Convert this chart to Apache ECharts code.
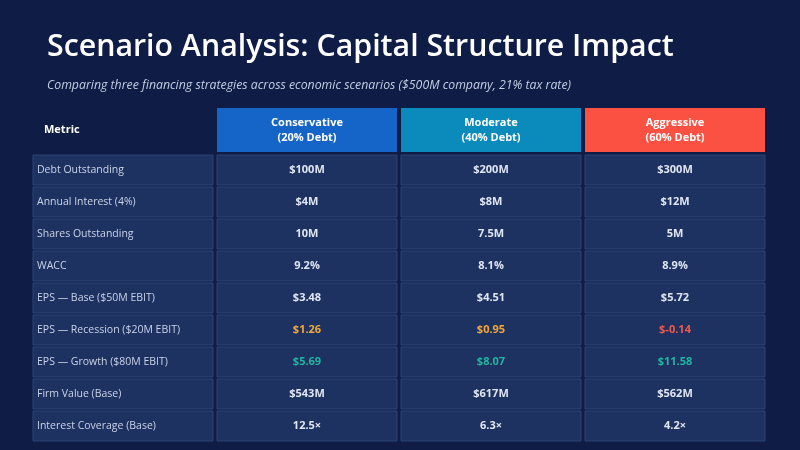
<!DOCTYPE html>
<html>
<head>
<meta charset="utf-8">
<script src="https://cdn.jsdelivr.net/npm/echarts@6/dist/echarts.min.js"></script>
<style>
  html, body { margin: 0; padding: 0; background: #0f1c45; }
  #chart { width: 800px; height: 450px; }
</style>
</head>
<body>
<div id="chart"></div>
<script>
const columns = ['Metric', 'Conservative', 'Moderate', 'Aggressive'];
const strategyHeaders = ['Conservative\n(20% Debt)', 'Moderate\n(40% Debt)', 'Aggressive\n(60% Debt)'];
const metrics = [
    'Debt Outstanding',
    'Annual Interest (4%)',
    'Shares Outstanding',
    'WACC',
    'EPS \u2014 Base ($50M EBIT)',
    'EPS \u2014 Recession ($20M EBIT)',
    'EPS \u2014 Growth ($80M EBIT)',
    'Firm Value (Base)',
    'Interest Coverage (Base)'
];
const conservative = ['$100M', '$4M', '10M', '9.2%', '$3.48', '$1.26', '$5.69', '$543M', '12.5\u00d7'];
const moderate = ['$200M', '$8M', '7.5M', '8.1%', '$4.51', '$0.95', '$8.07', '$617M', '6.3\u00d7'];
const aggressive = ['$300M', '$12M', '5M', '8.9%', '$5.72', '$-0.14', '$11.58', '$562M', '4.2\u00d7'];

const headerFill = ['#1565c8', '#0a8bbb', '#fa5142'];
const FONT = '"Open Sans", "Noto Sans", sans-serif';

// colour of a value cell's text, by row
function valueColor(row, col) {
    if (row === 5) return col === 3 ? '#f0584a' : '#f2a838';
    if (row === 6) return '#22b5a0';
    return '#dfe6f5';
}

const headerData = [];
for (let j = 0; j < columns.length; j++) {
    headerData.push([j, 0, j === 0 ? 'Metric' : strategyHeaders[j - 1]]);
}

const bodyData = [];
const valueCols = [metrics, conservative, moderate, aggressive];
for (let i = 0; i < metrics.length; i++) {
    for (let j = 0; j < valueCols.length; j++) {
        bodyData.push([j, i, valueCols[j][i]]);
    }
}

function renderHeader(params, api) {
    const col = api.value(0);
    const c = api.coord([col, api.value(1)]);
    const s = api.size([1, 1]);
    const w = s[0] - 4, h = s[1] - 4;
    const text = headerData[params.dataIndex][2];
    if (col === 0) {
        return {
            type: 'text',
            style: {
                text: text, x: c[0] - w / 2 + 11, y: c[1],
                align: 'left', verticalAlign: 'middle',
                fill: '#ffffff', font: 'bold 11px ' + FONT
            }
        };
    }
    return {
        type: 'group',
        children: [
            {
                type: 'rect',
                shape: { x: c[0] - w / 2, y: c[1] - h / 2, width: w, height: h },
                style: { fill: headerFill[col - 1] }
            },
            {
                type: 'text',
                style: {
                    text: text, x: c[0], y: c[1],
                    align: 'center', verticalAlign: 'middle',
                    fill: '#ffffff', font: 'bold 11px ' + FONT, lineHeight: 15
                }
            }
        ]
    };
}

function renderBody(params, api) {
    const col = api.value(0);
    const row = api.value(1);
    const c = api.coord([col, row]);
    const s = api.size([1, 1]);
    const w = s[0] - 4, h = s[1] - 2;
    const text = bodyData[params.dataIndex][2];
    const isLabel = col === 0;
    return {
        type: 'group',
        children: [
            {
                type: 'rect',
                shape: { x: c[0] - w / 2, y: c[1] - h / 2, width: w, height: h },
                style: { fill: '#1e3261', stroke: '#2d4576', lineWidth: 1 }
            },
            {
                type: 'text',
                style: {
                    text: text,
                    x: isLabel ? c[0] - w / 2 + 4 : c[0],
                    y: c[1],
                    align: isLabel ? 'left' : 'center',
                    verticalAlign: 'middle',
                    fill: isLabel ? '#c9d3e8' : valueColor(row, col),
                    font: (isLabel ? 'normal 10.5px ' : 'bold 11px ') + FONT
                }
            }
        ]
    };
}

const chart = echarts.init(document.getElementById('chart'));
chart.setOption({
    backgroundColor: '#0f1c45',
    animation: false,
    title: {
        text: 'Scenario Analysis: Capital Structure Impact',
        subtext: 'Comparing three financing strategies across economic scenarios ($500M company, 21% tax rate)',
        left: 42,
        top: 27,
        itemGap: 17,
        textStyle: { color: '#ffffff', fontSize: 30.3, fontWeight: 600, fontFamily: FONT },
        subtextStyle: { color: '#c3cde2', fontSize: 12.3, fontStyle: 'italic', fontFamily: FONT }
    },
    grid: [
        { left: 31, right: 33, top: 106, height: 48 },
        { left: 31, right: 33, top: 154, height: 288 }
    ],
    xAxis: [
        { type: 'category', gridIndex: 0, data: columns, show: false },
        { type: 'category', gridIndex: 1, data: columns, show: false }
    ],
    yAxis: [
        { type: 'category', gridIndex: 0, data: ['header'], show: false },
        { type: 'category', gridIndex: 1, data: metrics, inverse: true, show: false }
    ],
    series: [
        {
            type: 'custom',
            xAxisIndex: 0, yAxisIndex: 0,
            renderItem: renderHeader,
            data: headerData.map(d => [d[0], d[1]])
        },
        {
            type: 'custom',
            xAxisIndex: 1, yAxisIndex: 1,
            renderItem: renderBody,
            data: bodyData.map(d => [d[0], d[1]])
        }
    ]
});
</script>
</body>
</html>
